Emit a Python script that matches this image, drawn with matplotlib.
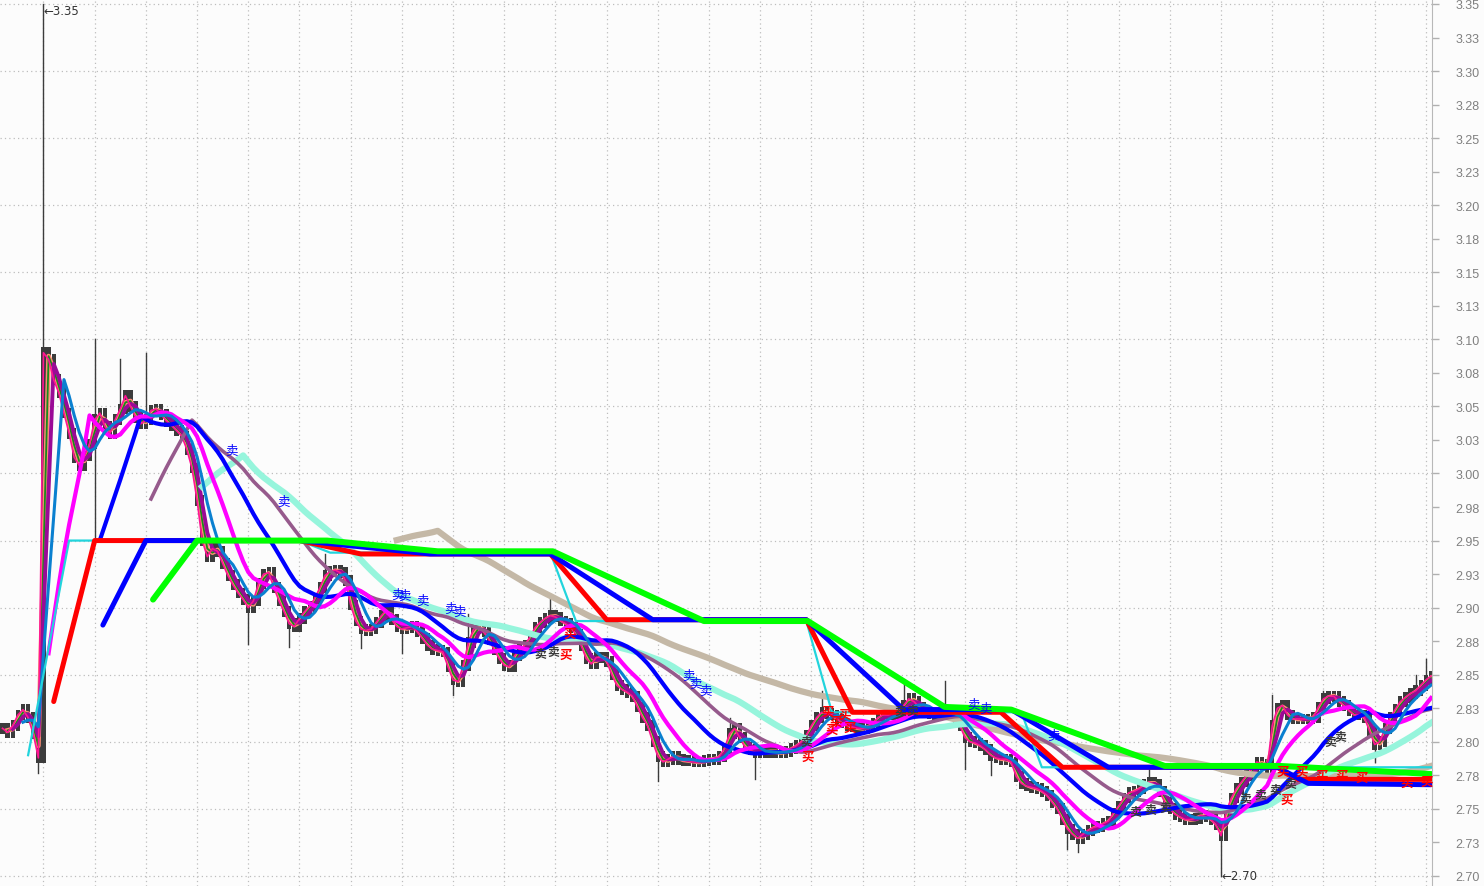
import numpy as np
import pandas as pd
import matplotlib
matplotlib.use("Agg")
import matplotlib.pyplot as plt

# closing prices, one per bar
close = [
    2.810, 2.807, 2.812, 2.820, 2.824, 2.818, 2.806, 2.788, 3.090, 3.085,
    3.070, 3.060, 3.045, 3.030, 3.012, 3.006, 3.013, 3.022, 3.040, 3.045,
    3.035, 3.030, 3.040, 3.048, 3.058, 3.050, 3.042, 3.037, 3.040, 3.047,
    3.048, 3.044, 3.039, 3.036, 3.032, 3.028, 3.018, 3.004, 2.980, 2.950,
    2.938, 2.944, 2.942, 2.933, 2.924, 2.917, 2.911, 2.906, 2.900, 2.905,
    2.918, 2.925, 2.926, 2.915, 2.905, 2.897, 2.888, 2.886, 2.892, 2.897,
    2.901, 2.907, 2.915, 2.924, 2.927, 2.928, 2.926, 2.920, 2.902, 2.890,
    2.884, 2.883, 2.884, 2.889, 2.894, 2.898, 2.891, 2.886, 2.884, 2.885,
    2.886, 2.882, 2.877, 2.872, 2.869, 2.868, 2.867, 2.856, 2.846, 2.845,
    2.857, 2.874, 2.884, 2.885, 2.882, 2.876, 2.869, 2.862, 2.857, 2.856,
    2.864, 2.869, 2.872, 2.878, 2.885, 2.889, 2.892, 2.894, 2.893, 2.890,
    2.888, 2.885, 2.880, 2.872, 2.862, 2.858, 2.863, 2.863, 2.860, 2.850,
    2.842, 2.839, 2.837, 2.834, 2.826, 2.818, 2.812, 2.800, 2.789, 2.785,
    2.787, 2.789, 2.787, 2.786, 2.786, 2.785, 2.785, 2.786, 2.787, 2.787,
    2.789, 2.795, 2.806, 2.810, 2.803, 2.796, 2.794, 2.792, 2.792, 2.792,
    2.793, 2.792, 2.792, 2.793, 2.795, 2.797, 2.800, 2.805, 2.812, 2.818,
    2.822, 2.821, 2.820, 2.817, 2.814, 2.812, 2.811, 2.810, 2.810, 2.811,
    2.814, 2.818, 2.820, 2.820, 2.821, 2.822, 2.827, 2.832, 2.830, 2.826,
    2.823, 2.821, 2.820, 2.821, 2.823, 2.822, 2.818, 2.812, 2.803, 2.800,
    2.799, 2.797, 2.794, 2.790, 2.788, 2.787, 2.787, 2.785, 2.774, 2.769,
    2.767, 2.766, 2.765, 2.763, 2.760, 2.755, 2.750, 2.742, 2.735, 2.731,
    2.728, 2.731, 2.734, 2.736, 2.737, 2.739, 2.741, 2.747, 2.752, 2.758,
    2.762, 2.763, 2.765, 2.768, 2.770, 2.768, 2.763, 2.755, 2.750, 2.746,
    2.744, 2.742, 2.742, 2.743, 2.745, 2.744, 2.742, 2.738, 2.730, 2.748,
    2.758, 2.765, 2.770, 2.775, 2.780, 2.785, 2.783, 2.780, 2.812, 2.825,
    2.827, 2.820, 2.817, 2.817, 2.817, 2.817, 2.818, 2.826, 2.832, 2.834,
    2.834, 2.830, 2.827, 2.823, 2.820, 2.820, 2.818, 2.808, 2.798, 2.800,
    2.810, 2.818, 2.824, 2.830, 2.833, 2.836, 2.838, 2.842, 2.846, 2.849,
]

# notable wicks
hi_bars = [8, 12, 18, 23, 28, 63, 91, 107, 142, 160, 176, 184, 224, 248, 258, 276, 278]
hi_vals = [3.35, 3.07, 3.10, 3.085, 3.09, 2.94, 2.895, 2.91, 2.818, 2.838, 2.843, 2.845,
           2.78, 2.835, 2.838, 2.85, 2.862]
lo_bars = [7, 18, 48, 56, 70, 78, 88, 128, 147, 188, 193, 208, 210, 238, 268]
lo_vals = [2.777, 2.95, 2.873, 2.871, 2.87, 2.866, 2.835, 2.771, 2.772, 2.78, 2.775,
           2.72, 2.718, 2.70, 2.785]

# trailing step lines (bar, price)
cyan_x = [5, 13, 58, 64, 107, 112, 157, 162, 199, 203, 279]
cyan_y = [2.79, 2.95, 2.95, 2.941, 2.941, 2.89, 2.89, 2.822, 2.822, 2.781, 2.781]
red_x = [10, 18, 58, 70, 107, 118, 157, 166, 195, 207, 249, 253, 279]
red_y = [2.83, 2.95, 2.95, 2.94, 2.94, 2.891, 2.891, 2.822, 2.822, 2.781, 2.781, 2.772, 2.772]
blue_x = [19.6, 28, 58, 83.5, 107, 127, 157, 176, 197, 216, 249, 255, 279]
blue_y = [2.887, 2.95, 2.95, 2.94, 2.94, 2.891, 2.891, 2.824, 2.824, 2.781, 2.781, 2.769, 2.768]
green_x = [29.4, 38, 63.4, 85, 107.5, 137, 157.3, 184, 197, 227, 249.5, 279]
green_y = [2.906, 2.95, 2.95, 2.942, 2.942, 2.89, 2.89, 2.826, 2.824, 2.782, 2.782, 2.776]

# signal labels
sell_x = [44.8, 54.8, 77.2, 78.6, 82.1, 87.4, 89.2, 133.9, 135.4, 137.2, 189.6, 191.9, 205.2]
sell_y = [3.0175, 2.9795, 2.910, 2.9095, 2.9057, 2.8998, 2.8975, 2.8498, 2.8438, 2.8386,
          2.8282, 2.8252, 2.8051]
buy_x = [110.8, 110.1, 157.3, 161.2, 162.8, 164.6, 162.0, 165.5, 250.1, 253.8, 257.7,
         261.6, 265.5, 274.3, 278.2, 250.9]
buy_y = [2.8811, 2.8655, 2.7894, 2.823, 2.8155, 2.8207, 2.8096, 2.811, 2.7782, 2.7782,
         2.7753, 2.7753, 2.7738, 2.770, 2.7708, 2.7574]
dark_x = [105.0, 107.5, 156.9, 175.3, 177.6, 221.2, 224.1, 227.0, 242.7, 245.6, 248.5,
          251.5, 259.3, 261.2]
dark_y = [2.8655, 2.867, 2.800, 2.823, 2.823, 2.7484, 2.7499, 2.7514, 2.7574, 2.7611,
          2.7648, 2.7693, 2.8006, 2.8043]

tick_vals = [2.70, 2.725, 2.75, 2.775, 2.80, 2.825, 2.85, 2.875, 2.90, 2.925, 2.95, 2.975,
             3.00, 3.025, 3.05, 3.075, 3.10, 3.125, 3.15, 3.175, 3.20, 3.225, 3.25, 3.275,
             3.30, 3.325, 3.35]
tick_labels = ["2.70", "2.73", "2.75", "2.78", "2.80", "2.83", "2.85", "2.88", "2.90", "2.93",
               "2.95", "2.98", "3.00", "3.03", "3.05", "3.08", "3.10", "3.13", "3.15", "3.18",
               "3.20", "3.23", "3.25", "3.28", "3.30", "3.33", "3.35"]

cjk = ["Noto Sans CJK SC", "DejaVu Sans"]
bg = "#FCFCFC"
fig = plt.figure(figsize=(14.84, 8.87), dpi=100, facecolor=bg)
ax = fig.add_axes([0, 0, 1432 / 1484, 1])
ax.set_facecolor(bg)

s = pd.Series(close)
x = np.arange(len(close))
n = len(close)

# grid
for v in tick_vals[::2]:
    ax.axhline(v, color="#BDBDBD", lw=0.9, ls=(0, (1, 2.5)), zorder=0)
for b in range(8, n, 10):
    ax.axvline(b, color="#BDBDBD", lw=0.9, ls=(0, (1, 2.5)), zorder=0)

# candles
opens = s.shift(1).fillna(s.iloc[0]).values
lo_b = np.minimum(opens, s.values) - 0.004
hi_b = np.maximum(opens, s.values) + 0.004
ax.bar(x, hi_b - lo_b, bottom=lo_b, width=0.85, color="#3C3C3C", zorder=1)
for b, v in zip(hi_bars, hi_vals):
    ax.plot([b, b], [close[b], v], color="#3C3C3C", lw=1.0, zorder=1)
for b, v in zip(lo_bars, lo_vals):
    ax.plot([b, b], [close[b], v], color="#3C3C3C", lw=1.0, zorder=1)

# price ribbon
ax.plot(x, s.rolling(2).mean(), color="#FF8C74", lw=3.4, zorder=2)
ax.plot(x, s.rolling(2).mean(), color="#1A8A1A", lw=1.3, zorder=2)
ax.plot(x, s.rolling(3).mean(), color="#8C8C8C", lw=1.3, zorder=2)
ax.plot(x, s.rolling(3).mean(), color="#9A0A96", lw=2.8, zorder=2)
ax.plot(x, s, color="#FF1493", lw=1.2, zorder=2)

# moving averages
ax.plot(x, s.rolling(78).mean(), color="#C4B8A6", lw=4.5, zorder=3)
ax.plot(x, s.rolling(40).mean(), color="#96F5DC", lw=4.5, zorder=3)
ax.plot(x, s.rolling(30).mean(), color="#965A8C", lw=2.6, zorder=3)
ax.plot(x, s.rolling(20).mean(), color="#0000FF", lw=3.0, zorder=3)
ax.plot(x, s.rolling(10).mean(), color="#FF00FF", lw=3.0, zorder=3)
ax.plot(x, s.rolling(5).mean(), color="#0A80D0", lw=2.2, zorder=3)

# step lines
ax.plot(cyan_x, cyan_y, color="#22D4DC", lw=1.6, zorder=4)
ax.plot(red_x, red_y, color="#FF0000", lw=3.6, zorder=4, solid_capstyle="round")
ax.plot(blue_x, blue_y, color="#0000FF", lw=3.6, zorder=4, solid_capstyle="round")
ax.plot(green_x, green_y, color="#00FF00", lw=4.3, zorder=4, solid_capstyle="round")

# signals
for bx, by in zip(dark_x, dark_y):
    ax.text(bx, by, "卖", color="#3A3A3A", fontsize=8.5, ha="center", va="center",
            family=cjk, fontweight="bold", zorder=5)
for bx, by in zip(sell_x, sell_y):
    ax.text(bx, by, "卖", color="#0000FF", fontsize=9, ha="center", va="center",
            family=cjk, zorder=6)
for bx, by in zip(buy_x, buy_y):
    ax.text(bx, by, "买", color="#FF0000", fontsize=9, ha="center", va="center",
            family=cjk, fontweight="bold", zorder=6)

# extreme labels
ax.annotate("←3.35", (8, 3.35), xytext=(0, -5), textcoords="offset points",
            fontsize=8.5, color="#333333", ha="left", va="center", zorder=6)
ax.annotate("←2.70", (238, 2.70), xytext=(0, 0), textcoords="offset points",
            fontsize=8.5, color="#333333", ha="left", va="center", zorder=6)

ax.set_xlim(-0.49, 279.2)
ax.set_ylim(2.6925, 3.3537)

ax.yaxis.tick_right()
ax.set_yticks(tick_vals)
ax.set_yticklabels(tick_labels)
ax.tick_params(axis="y", colors="#B0B0B0", labelcolor="#808080", length=5, width=1,
               labelsize=9, pad=12)
for lab in ax.get_yticklabels():
    lab.set_family("Liberation Sans")
ax.set_xticks([])
for side in ["left", "top", "bottom"]:
    ax.spines[side].set_visible(False)
ax.spines["right"].set_color("#B8B8B8")

fig.savefig("out.png", dpi=100, facecolor=bg)
